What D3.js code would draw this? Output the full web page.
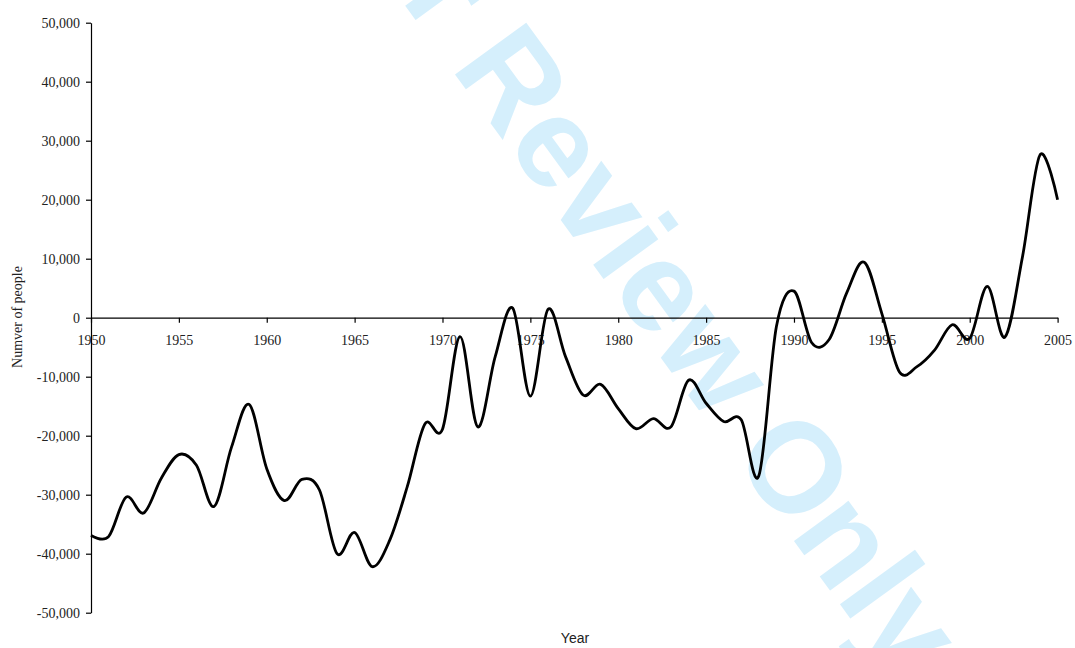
<!DOCTYPE html>
<html>
<head>
<meta charset="utf-8">
<script src="https://cdn.jsdelivr.net/npm/d3@7"></script>
<style>
  html, body { margin: 0; padding: 0; background: #fff; }
  svg { display: block; }
</style>
</head>
<body>
<svg id="chart" width="1075" height="648"></svg>
<script>
const years = [1950,1951,1952,1953,1954,1955,1956,1957,1958,1959,
  1960,1961,1962,1963,1964,1965,1966,1967,1968,1969,
  1970,1971,1972,1973,1974,1975,1976,1977,1978,1979,
  1980,1981,1982,1983,1984,1985,1986,1987,1988,1989,
  1990,1991,1992,1993,1994,1995,1996,1997,1998,1999,
  2000,2001,2002,2003,2004,2005];
const people = [-36900,-37100,-30400,-33100,-27200,-23200,-25000,-32000,-21900,-14700,
  -25600,-31000,-27400,-29200,-40000,-36400,-42200,-37700,-28600,-18000,
  -18900,-3200,-18500,-6600,1600,-13300,1400,-6600,-13100,-11300,
  -15400,-18800,-17100,-18500,-10600,-14500,-17600,-17300,-26800,-1500,
  4500,-4200,-3700,4200,9400,700,-9200,-8300,-5500,-1200,
  -3500,5300,-3300,10300,27600,20000];
const xTicks = [1950,1955,1960,1965,1970,1975,1980,1985,1990,1995,2000,2005];
const yTicks = [-50000,-40000,-30000,-20000,-10000,0,10000,20000,30000,40000,50000];
const xTitle = "Year";
const yTitle = "Numver of people";
const watermark = "For Review Only";

const svg = d3.select("#chart");
const x = d3.scaleLinear().domain([1950, 2005]).range([91, 1057.6]);
const y = d3.scaleLinear().domain([-50000, 50000]).range([612.7, 22.7]);
const fmt = d3.formatLocale({decimal: ".", thousands: ",", grouping: [3], currency: ["$", ""], minus: "-"}).format(",");

// watermark (behind)
const fs = 128, ang = 54;
svg.append("text")
  .attr("transform", `translate(308,-128) rotate(${ang})`)
  .attr("font-family", "'Liberation Sans', Arial, sans-serif")
  .attr("font-weight", "bold")
  .attr("font-size", fs)
  .attr("fill", "#d5effc")
  .text(watermark);

// y axis
const gy = svg.append("g")
  .attr("transform", `translate(${x(1950)},0)`)
  .call(d3.axisLeft(y).tickValues(yTicks).tickSize(5).tickSizeOuter(0).tickPadding(6).tickFormat(fmt));
gy.selectAll("text").attr("font-family", "'Liberation Serif', 'Times New Roman', serif").attr("font-size", 14).attr("fill", "#222");

// x axis at zero
const gx = svg.append("g")
  .attr("transform", `translate(0,${y(0)})`)
  .call(d3.axisBottom(x).tickValues(xTicks).tickSize(5).tickSizeOuter(0).tickPadding(12).tickFormat(d => String(d)));
gx.selectAll("text").attr("font-family", "'Liberation Serif', 'Times New Roman', serif").attr("font-size", 14).attr("fill", "#222");

svg.selectAll(".domain, .tick line").attr("stroke", "#000").attr("stroke-width", 1.2);

// line
const data = years.map((yr, i) => ({yr, v: people[i]}));
svg.append("path")
  .datum(data)
  .attr("fill", "none")
  .attr("stroke", "#000")
  .attr("stroke-width", 2.8)
  .attr("stroke-linejoin", "round")
  .attr("d", d3.line().x(d => x(d.yr)).y(d => y(d.v)).curve(d3.curveCatmullRom.alpha(0)));

// titles
svg.append("text")
  .attr("x", 575).attr("y", 643)
  .attr("text-anchor", "middle")
  .attr("font-family", "'Liberation Sans', Arial, sans-serif")
  .attr("font-size", 14).attr("fill", "#222")
  .text(xTitle);

svg.append("text")
  .attr("transform", "translate(22,317) rotate(-90)")
  .attr("text-anchor", "middle")
  .attr("font-family", "'Liberation Serif', 'Times New Roman', serif")
  .attr("font-size", 14).attr("fill", "#222")
  .text(yTitle);
</script>
</body>
</html>
